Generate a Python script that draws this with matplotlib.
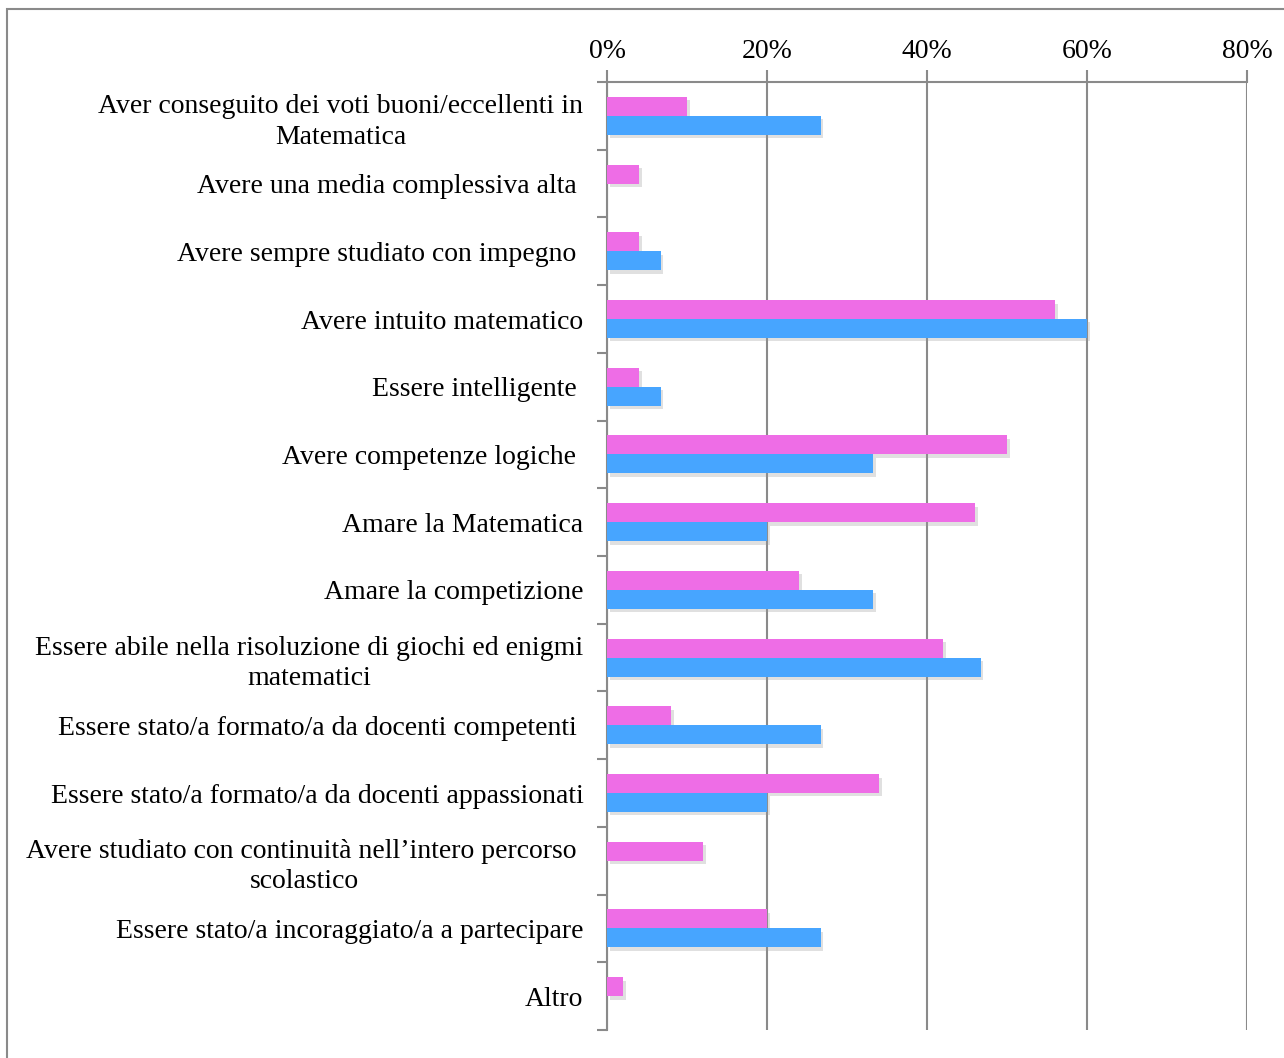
import matplotlib
matplotlib.use('Agg')
from matplotlib import pyplot as plt
from matplotlib.patches import Rectangle
from matplotlib.ticker import PercentFormatter, FixedLocator
import matplotlib.patheffects as pe
import numpy as np

categorie = [
    'Aver conseguito dei voti buoni/eccellenti in\nMatematica',
    'Avere una media complessiva alta ',
    'Avere sempre studiato con impegno ',
    'Avere intuito matematico',
    'Essere intelligente ',
    'Avere competenze logiche ',
    'Amare la Matematica',
    'Amare la competizione',
    'Essere abile nella risoluzione di giochi ed enigmi\nmatematici',
    'Essere stato/a formato/a da docenti competenti ',
    'Essere stato/a formato/a da docenti appassionati',
    'Avere studiato con continuità nell\u2019intero percorso \nscolastico',
    'Essere stato/a incoraggiato/a a partecipare',
    'Altro',
]
serie_rosa = [10, 4, 4, 56, 4, 50, 46, 24, 42, 8, 34, 12, 20, 2]
serie_blu = [26.7, 0, 6.7, 60, 6.7, 33.3, 20, 33.3, 46.7, 26.7, 20, 0, 26.7, 0]
tick_x = [0, 20, 40, 60, 80]

plt.rcParams['font.family'] = ['Liberation Serif', 'DejaVu Serif']
grigio = '#8a8a8a'

fig = plt.figure(figsize=(12.84, 10.58), dpi=100)
ax = fig.add_axes([607 / 1284, 1 - 1030 / 1058, 640 / 1284, 948 / 1058])

# cornice esterna del grafico
fig.patches.append(Rectangle((7 / 1284, -0.1), 1.2, 1 - 9 / 1058 + 0.1,
                             transform=fig.transFigure, fill=False,
                             edgecolor=grigio, linewidth=1.5))

y = np.arange(len(categorie))
h = 0.28
ombra = [pe.SimplePatchShadow(offset=(2, -2.5), shadow_rgbFace='#999999', alpha=0.3), pe.Normal()]
b1 = ax.barh(y - h / 2, serie_rosa, height=h, color='#ee6de6', zorder=3)
b2 = ax.barh(y + h / 2, serie_blu, height=h, color='#47a5ff', zorder=3)
for b in list(b1) + list(b2):
    b.set_path_effects(ombra)

ax.set_xlim(0, 80)
ax.set_ylim(len(categorie) - 0.5, -0.5)
ax.xaxis.set_major_locator(FixedLocator(tick_x))
ax.xaxis.set_major_formatter(PercentFormatter(decimals=0))
ax.xaxis.tick_top()
ax.grid(axis='x', color=grigio, linewidth=1.5, zorder=0)

ax.set_yticks(y)
ax.set_yticklabels(categorie, multialignment='center', linespacing=1.3)
ax.set_yticks(np.arange(len(categorie) + 1) - 0.5, minor=True)
ax.tick_params(axis='y', which='major', length=0, pad=17, labelsize=20)
ax.tick_params(axis='y', which='minor', length=7, width=1.5, color=grigio)
ax.tick_params(axis='x', length=9, width=1.5, color=grigio, pad=4, labelsize=20)

for s in ['right', 'bottom']:
    ax.spines[s].set_visible(False)
for s in ['left', 'top']:
    ax.spines[s].set_color(grigio)
    ax.spines[s].set_linewidth(1.5)

plt.savefig('out.png', dpi=100)
